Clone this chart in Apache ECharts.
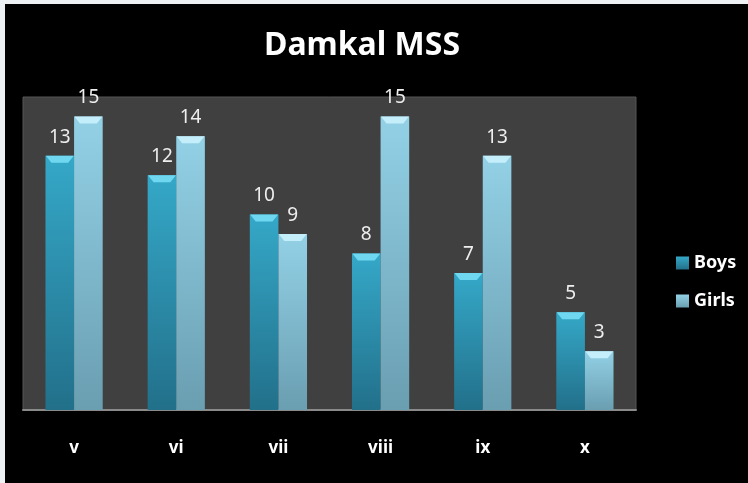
<!DOCTYPE html>
<html><head><meta charset="utf-8">
<script src="https://cdn.jsdelivr.net/npm/echarts@6/dist/echarts.min.js"></script>
<style>
html,body{margin:0;padding:0;background:#eef1f4;width:748px;height:483px;overflow:hidden}
#c{position:absolute;left:5px;top:4px;width:743px;height:479px;background:#000}
</style></head><body><div id="c"></div>
<script>
const categories = ['v','vi','vii','viii','ix','x'];
const boys = [13,12,10,8,7,5];
const girls = [15,14,9,15,13,3];
const titleText = 'Damkal MSS';

const chart = echarts.init(document.getElementById('c'));
const FONT = '"Noto Sans", sans-serif';
const capPath = 'path://M0,0 L20,0 L16,5 L4,5 Z';
function grad(top, bottom){
  return new echarts.graphic.LinearGradient(0,0,0,1,[{offset:0,color:top},{offset:1,color:bottom}]);
}
const boysColor = grad('#35a8c8','#22708a');
const girlsColor = grad('#93d1e6','#6a9eb1');
chart.setOption({
  backgroundColor:'#000',
  animation:false,
  title:{text:titleText,left:352,top:21,textAlign:'center',
    textStyle:{color:'#fff',fontSize:32,fontWeight:'bold',fontFamily:FONT}},
  legend:{orient:'vertical',left:666,top:245,itemGap:20,itemWidth:13,itemHeight:13,
    data:[{name:'Boys',icon:'rect'},{name:'Girls',icon:'rect'}],
    textStyle:{color:'#fff',fontSize:18,fontWeight:'bold',fontFamily:FONT}},
  grid:{left:18,top:93,width:613,height:313,show:true,backgroundColor:'#404040',borderColor:'#555',borderWidth:1},
  xAxis:{type:'category',data:categories,
    axisLine:{lineStyle:{color:'#8a8a8a',width:2}},axisTick:{show:false},
    axisLabel:{color:'#fff',fontSize:17,fontWeight:'bold',fontFamily:FONT,margin:30}},
  yAxis:{type:'value',min:0,max:16,show:false,splitLine:{show:false}},
  series:[
    {name:'Boys',type:'bar',data:boys,barGap:'0%',barCategoryGap:'44%',
     itemStyle:{color:boysColor},
     label:{show:true,position:'top',distance:9,color:'#eee',fontSize:19,fontFamily:FONT}},
    {name:'Girls',type:'bar',data:girls,
     itemStyle:{color:girlsColor},
     label:{show:true,position:'top',distance:9,color:'#eee',fontSize:19,fontFamily:FONT}},
    {name:'Boys',type:'pictorialBar',data:boys,symbol:capPath,symbolSize:[28,7],
     symbolPosition:'end',symbolOffset:[-14.3,0],z:5,itemStyle:{color:'#6fd8f0'},tooltip:{show:false}},
    {name:'Girls',type:'pictorialBar',data:girls,symbol:capPath,symbolSize:[28,7],
     symbolPosition:'end',symbolOffset:[14.3,0],z:5,itemStyle:{color:'#c4eefa'},tooltip:{show:false}}
  ]
});
</script></body></html>
